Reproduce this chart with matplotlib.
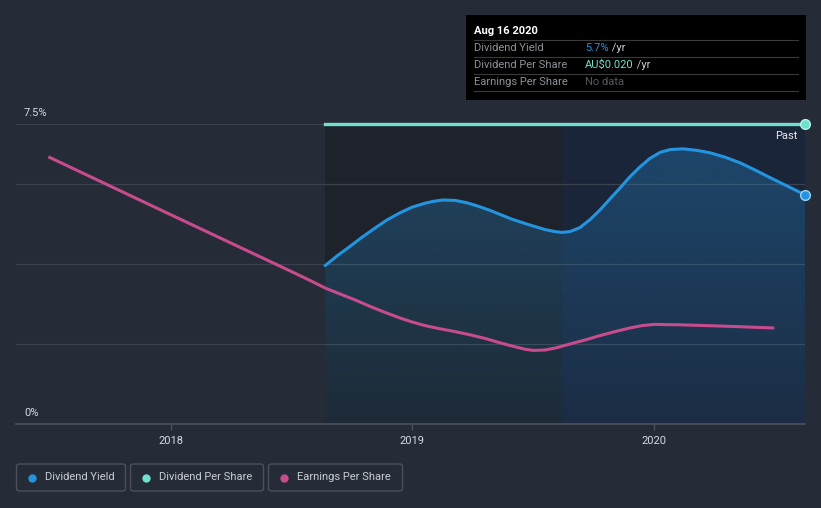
import matplotlib
matplotlib.use('Agg')
import matplotlib.pyplot as plt
import numpy as np
from matplotlib.patches import FancyBboxPatch, Rectangle

plt.rcParams['font.family'] = ['Roboto', 'DejaVu Sans']

# ---------------- data (x in decimal years) ----------------
dy_years = [2018.639, 2018.688, 2018.742, 2018.792, 2018.846, 2018.895, 2018.949,
            2018.999, 2019.053, 2019.090, 2019.127, 2019.177, 2019.227, 2019.280,
            2019.322, 2019.363, 2019.413, 2019.458, 2019.500, 2019.550, 2019.591,
            2019.620, 2019.653, 2019.694, 2019.736, 2019.777, 2019.819, 2019.860,
            2019.901, 2019.943, 2019.984, 2020.026, 2020.067, 2020.121, 2020.179,
            2020.233, 2020.295, 2020.357, 2020.419, 2020.481, 2020.552, 2020.626]
dy_values = [3.96, 4.20, 4.44, 4.67, 4.90, 5.10, 5.28,
             5.42, 5.52, 5.57, 5.60, 5.59, 5.53, 5.43,
             5.34, 5.24, 5.12, 5.03, 4.95, 4.86, 4.81,
             4.79, 4.81, 4.91, 5.11, 5.35, 5.63, 5.90,
             6.18, 6.43, 6.64, 6.79, 6.86, 6.88, 6.84,
             6.78, 6.67, 6.53, 6.35, 6.16, 5.95, 5.73]

dps_years = [2018.639, 2020.626]
dps_values = [0.020, 0.020]

eps_years = [2017.493, 2017.997, 2018.500, 2018.576, 2018.639, 2018.701, 2018.764,
             2018.825, 2018.887, 2018.949, 2018.999, 2019.053, 2019.115, 2019.177,
             2019.239, 2019.301, 2019.363, 2019.425, 2019.466, 2019.500, 2019.550,
             2019.599, 2019.653, 2019.715, 2019.777, 2019.839, 2019.901, 2019.951,
             2020.001, 2020.108, 2020.273, 2020.499]
eps_values = [6.68, 5.24, 3.81, 3.59, 3.40, 3.25, 3.10,
              2.94, 2.79, 2.65, 2.55, 2.46, 2.38, 2.31,
              2.23, 2.14, 2.03, 1.93, 1.87, 1.84, 1.85,
              1.91, 2.00, 2.10, 2.21, 2.31, 2.40, 2.46,
              2.49, 2.48, 2.45, 2.40]

year_ticks = [2018, 2019, 2020]
y_label_values = [0, 7.5]
grid_values = [2, 4, 6, 7.5]

view_start = 2017.359
past_start = 2018.639
last_year_start = 2019.620
end_year = 2020.626

tooltip_date = 'Aug 16 2020'
tooltip_rows = [('Dividend Yield', '5.7%', ' /yr'),
                ('Dividend Per Share', 'AU$0.020', ' /yr'),
                ('Earnings Per Share', 'No data', '')]
legend_labels = ['Dividend Yield', 'Dividend Per Share', 'Earnings Per Share']

# ---------------- style ----------------
BG = '#262c37'
C_DY = '#2394df'
C_DPS = '#6ee0cf'
C_EPS = '#c84b8d'
W, H = 821, 508

fig = plt.figure(figsize=(W / 100, H / 100), dpi=100, facecolor=BG)
ax = fig.add_axes([16 / W, 1 - 424 / H, 789 / W, 300 / H])
ax.set_facecolor(BG)

# shaded periods
ax.axvspan(past_start, last_year_start, color='#1e232b', lw=0, zorder=0)
ax.axvspan(last_year_start, end_year, color='#1b2539', lw=0, zorder=0)

# grid
for g in grid_values:
    ax.axhline(g, color='#3b424d', lw=0.9, zorder=1)

# dividend yield fill with vertical gradient
poly = ax.fill_between(dy_years, dy_values, 0, color='none', lw=0, zorder=2)
grad = np.linspace(0.07, 0.30, 256).reshape(-1, 1)
rgba = np.zeros((256, 1, 4))
rgba[..., 0] = 0x23 / 255
rgba[..., 1] = 0x94 / 255
rgba[..., 2] = 0xdf / 255
rgba[..., 3] = grad
im = ax.imshow(rgba, extent=[dy_years[0], dy_years[-1], 0, max(dy_values)],
               origin='lower', aspect='auto', zorder=2, interpolation='bilinear')
im.set_clip_path(poly.get_paths()[0], transform=ax.transData)
ax.set_xlim(view_start, end_year)
ax.set_ylim(0, 7.5)

ax.plot(dy_years, dy_values, color=C_DY, lw=2.2, zorder=4,
        solid_capstyle='round', solid_joinstyle='round')
ax.plot(dy_years[-1], dy_values[-1], 'o', ms=7, mfc=C_DY, mec='#9fd3f5', mew=1.0,
        zorder=6, clip_on=False)

# EPS
ax.plot(eps_years, eps_values, color=C_EPS, lw=2.2, zorder=3,
        solid_capstyle='butt', solid_joinstyle='round')

# DPS on its own scale
ax2 = ax.twinx()
ax2.set_ylim(0, 0.020)
ax2.set_xlim(view_start, end_year)
ax2.axis('off')
ax2.plot(dps_years, dps_values, color=C_DPS, lw=2.4, zorder=5, clip_on=False)
ax2.plot(dps_years[-1], dps_values[-1], 'o', ms=7, mfc=C_DPS, mec='#b8f3ea',
         mew=1.0, zorder=6, clip_on=False)

# axes styling
for s in ['top', 'right', 'left']:
    ax.spines[s].set_visible(False)
ax.spines['bottom'].set_color('#4b525d')
ax.spines['bottom'].set_linewidth(1.2)
ax.set_yticks([])
ax.set_xticks(year_ticks)
ax.set_xticklabels([str(y) for y in year_ticks])
ax.tick_params(axis='x', colors='#4b525d', length=4, width=1, pad=5,
               labelcolor='#d6d9de', labelsize=8)

# y labels
for v in y_label_values:
    ax.annotate(f'{v:g}%', xy=(0, v), xycoords=('axes fraction', 'data'),
                xytext=(8, 6), textcoords='offset pixels', ha='left', va='bottom',
                color='#d6d9de', fontsize=8)

ax.annotate('Past', xy=(1, 1), xycoords='axes fraction', xytext=(-8, -12),
            textcoords='offset pixels', ha='right', va='center',
            color='#e8eaed', fontsize=8)

# tooltip
def fx(x): return x / W
def fy(y): return 1 - y / H

fig.patches.append(Rectangle((fx(466), fy(100)), fx(806) - fx(466), fy(15) - fy(100),
                             transform=fig.transFigure, facecolor='black',
                             edgecolor='none', zorder=10))
fig.text(fx(474), fy(31), tooltip_date, color='white', fontsize=8,
         fontweight='bold', va='center', ha='left', zorder=11)
row_y = [48, 65, 82]
fig.canvas.draw()
for i, (lab, val, suf) in enumerate(tooltip_rows):
    fig.add_artist(plt.Line2D([fx(474), fx(798)], [fy(row_y[i] - 8.5)] * 2,
                              color='#3a3a3a', lw=0.8, transform=fig.transFigure,
                              zorder=11))
    fig.text(fx(474), fy(row_y[i]), lab, color='#8d9199', fontsize=8,
             va='center', ha='left', zorder=11)
    vcol = [C_DY, C_DPS, '#55595f'][i]
    t = fig.text(fx(585), fy(row_y[i]), val, color=vcol, fontsize=8,
                 va='center', ha='left', zorder=11)
    if suf:
        bb = t.get_window_extent(renderer=fig.canvas.get_renderer())
        fig.text(bb.x1 / W, fy(row_y[i]), suf, color='#c9ccd1', fontsize=8,
                 va='center', ha='left', zorder=11)
fig.add_artist(plt.Line2D([fx(474), fx(798)], [fy(91)] * 2, color='#3a3a3a',
                          lw=0.8, transform=fig.transFigure, zorder=11))

# legend boxes
boxes = [(16.5, 125.5), (130.5, 263.5), (268.5, 402.5)]
cols = [C_DY, C_DPS, C_EPS]
for (x0, x1), lab, c in zip(boxes, legend_labels, cols):
    fig.patches.append(FancyBboxPatch((fx(x0), fy(491)), fx(x1) - fx(x0),
                                      fy(464) - fy(491),
                                      boxstyle='round,pad=0,rounding_size=0.004',
                                      transform=fig.transFigure, facecolor='none',
                                      edgecolor='#4a515c', lw=1.0))
    fig.add_artist(plt.Line2D([fx(x0 + 15)], [fy(477.5)], marker='o', ms=6,
                              mfc=c, mec='none', transform=fig.transFigure))
    fig.text(fx(x0 + 28), fy(477.5), lab, color='#c9ccd1', fontsize=8,
             va='center', ha='left')

fig.savefig('out.png', dpi=100, facecolor=BG)
